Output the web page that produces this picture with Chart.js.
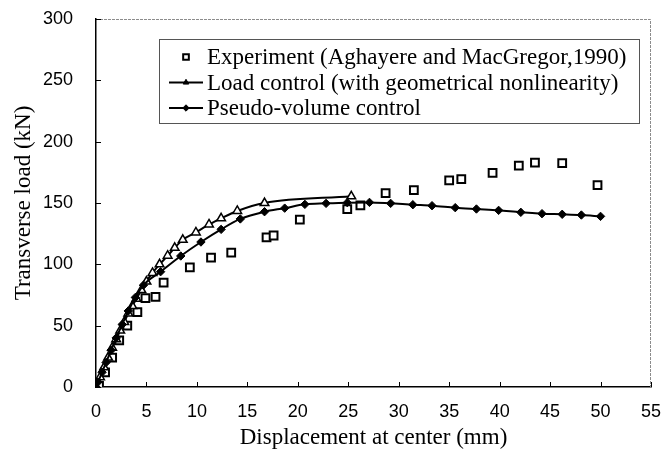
<!DOCTYPE html>
<html>
<head>
<meta charset="utf-8">
<script src="https://cdn.jsdelivr.net/npm/chart.js@4/dist/chart.umd.min.js"></script>
<style>
  html, body { margin: 0; padding: 0; background: #fff; }
  canvas { display: block; }
</style>
</head>
<body>
<canvas id="chart" width="670" height="452"></canvas>
<script>
// ── Data ───────────────────────────────────
var expX = [0.3, 0.9, 1.6, 2.3, 3.1, 4.1, 4.9, 5.9, 6.7, 9.3, 11.4, 13.4, 16.9, 17.6, 20.2,
            24.9, 26.2, 28.7, 31.5, 35.0, 36.2, 39.3, 41.9, 43.5, 46.2, 49.7];
var expY = [1, 12, 24, 38, 50, 61, 72.5, 73.5, 85, 97.5, 105.5, 109.5, 122, 123.5, 136.5,
            145, 148, 158, 160.5, 168.5, 169.5, 174.5, 180.5, 183, 182.5, 164.5];

var loadX = [0, 0.4, 0.8, 1.2, 1.6, 2.0, 2.4, 2.8, 3.2, 3.6, 4.0, 4.5, 5.0, 5.6, 6.3,
             7.1, 7.8, 8.6, 9.9, 11.2, 12.4, 14.0, 16.7, 25.3];
var loadY = [0, 8, 16, 24, 32, 39, 46, 53, 60, 66, 72, 79, 86, 93, 100,
             107, 113.5, 120, 126, 132.5, 137.5, 143.5, 150, 155.5];

var pvX = [0, 0.2, 0.6, 1.0, 1.5, 2.0, 2.6, 3.2, 3.9, 4.7, 6.4, 8.4, 10.4, 12.4, 14.3, 16.7,
           18.7, 20.7, 22.8, 24.9, 27.1, 29.2, 31.4, 33.3, 35.6, 37.7, 39.9, 42.1, 44.2,
           46.2, 48.1, 50.0];
var pvY = [0, 4, 12, 20, 30, 40, 51, 62, 73, 83, 94, 106.8, 118.2, 128.5, 137, 142.9,
           145.8, 148.9, 149.7, 150.3, 150.5, 149.7, 148.6, 147.8, 146.2, 145.1, 144, 142.4,
           141.3, 140.8, 140.2, 139.1];

var seriesLabels = [
  'Experiment (Aghayere and MacGregor,1990)',
  'Load control (with geometrical nonlinearity)',
  'Pseudo-volume control'
];
var xRange = [0, 55, 5];     // min, max, step
var yRange = [0, 300, 50];
var xTitle = 'Displacement at center (mm)';
var yTitle = 'Transverse load (kN)';

// ── Helpers ────────────────────────────────
function pts(xs, ys) {
  return xs.map(function(x, i) { return { x: x, y: ys[i] }; });
}

var SERIF = "'Liberation Serif', 'Times New Roman', serif";
var SANS = "'Liberation Sans', Arial, sans-serif";

// frame on top/right plus inward tick marks
var framePlugin = {
  id: 'frame',
  beforeDatasetsDraw: function(chart) {
    var a = chart.chartArea, ctx = chart.ctx;
    var xs = chart.scales.x, ys = chart.scales.y;
    ctx.save();
    ctx.strokeStyle = '#8c8c8c';
    ctx.lineWidth = 1;
    ctx.setLineDash([3, 1]);
    ctx.beginPath();
    ctx.moveTo(a.left, a.top + 0.5);
    ctx.lineTo(a.right - 0.5, a.top + 0.5);
    ctx.lineTo(a.right - 0.5, a.bottom);
    ctx.stroke();
    ctx.setLineDash([]);
    ctx.strokeStyle = '#000';
    ctx.beginPath();
    xs.ticks.forEach(function(t) {
      var px = Math.round(xs.getPixelForValue(t.value)) + 0.5;
      ctx.moveTo(px, a.bottom);
      ctx.lineTo(px, a.bottom - 5);
    });
    ys.ticks.forEach(function(t) {
      var py = Math.round(ys.getPixelForValue(t.value)) + 0.5;
      ctx.moveTo(a.left, py);
      ctx.lineTo(a.left + 5, py);
    });
    ctx.stroke();
    ctx.restore();
  }
};

// boxed legend inside the plot
var legendPlugin = {
  id: 'boxLegend',
  afterDraw: function(chart) {
    var ctx = chart.ctx;
    var box = { x: 159.5, y: 39.5, w: 480, h: 84 };
    var rows = [57, 82.5, 108];
    ctx.save();
    ctx.fillStyle = '#fff';
    ctx.fillRect(box.x, box.y, box.w, box.h);
    ctx.strokeStyle = '#555';
    ctx.lineWidth = 1;
    ctx.strokeRect(box.x, box.y, box.w, box.h);

    chart.data.datasets.forEach(function(ds, i) {
      var y = rows[i];
      var isLine = ds.showLine !== false;
      ctx.strokeStyle = '#000';
      if (isLine) {
        ctx.lineWidth = 2;
        ctx.beginPath();
        ctx.moveTo(169, y);
        ctx.lineTo(203, y);
        ctx.stroke();
      }
      ctx.lineWidth = isLine ? 1 : 2;
      ctx.fillStyle = isLine ? '#000' : '#fff';
      Chart.helpers.drawPoint(ctx, {
        pointStyle: ds.pointStyle, radius: isLine ? 3.2 : 4,
        rotation: 0, borderWidth: ctx.lineWidth
      }, 186, y);
      ctx.fillStyle = '#000';
      ctx.font = '23px ' + SERIF;
      ctx.textBaseline = 'middle';
      ctx.textAlign = 'left';
      ctx.fillText(ds.label, 207, y + 1);
    });
    ctx.restore();
  }
};

// ── Chart ──────────────────────────────────
new Chart(document.getElementById('chart'), {
  type: 'scatter',
  data: {
    datasets: [
      {
        label: seriesLabels[0],
        data: pts(expX, expY),
        showLine: false,
        pointStyle: 'rect',
        pointRadius: 5.5,
        pointBorderWidth: 2,
        pointBorderColor: '#000',
        pointBackgroundColor: '#fff',
        order: 3
      },
      {
        label: seriesLabels[1],
        data: pts(loadX, loadY),
        showLine: true,
        borderColor: '#000',
        borderWidth: 2,
        cubicInterpolationMode: 'monotone',
        pointStyle: 'triangle',
        pointRadius: 5,
        pointBorderWidth: 1.5,
        pointBorderColor: '#000',
        pointBackgroundColor: '#fff',
        order: 2
      },
      {
        label: seriesLabels[2],
        data: pts(pvX, pvY),
        showLine: true,
        borderColor: '#000',
        borderWidth: 2,
        cubicInterpolationMode: 'monotone',
        pointStyle: 'rectRot',
        pointRadius: 4.2,
        pointBorderWidth: 1,
        pointBorderColor: '#000',
        pointBackgroundColor: '#000',
        order: 1
      }
    ]
  },
  options: {
    responsive: false,
    animation: false,
    layout: { padding: { top: 19, right: 19, left: 0, bottom: 0 } },
    plugins: {
      legend: { display: false },
      tooltip: { enabled: false }
    },
    scales: {
      x: {
        type: 'linear',
        min: xRange[0], max: xRange[1],
        afterFit: function(s) { s.height = 65; s.paddingLeft = 0; s.paddingRight = 0; },
        ticks: { stepSize: xRange[2], padding: 14, color: '#000', font: { size: 18, family: SANS } },
        grid: { display: false, drawTicks: false },
        border: { color: '#000', width: 1.5 },
        title: { display: true, text: xTitle, color: '#000', padding: { top: 0, bottom: 0 },
                 font: { size: 23, family: SERIF } }
      },
      y: {
        type: 'linear',
        min: yRange[0], max: yRange[1],
        afterFit: function(s) { s.width = 96; s.paddingTop = 0; s.paddingBottom = 0; },
        ticks: { stepSize: yRange[2], padding: 23, color: '#000', font: { size: 18, family: SANS } },
        grid: { display: false, drawTicks: false },
        border: { color: '#000', width: 1.5 },
        title: { display: true, text: yTitle, color: '#000', padding: { top: 10, bottom: 0 },
                 font: { size: 23, family: SERIF } }
      }
    }
  },
  plugins: [framePlugin, legendPlugin]
});
</script>
</body>
</html>
